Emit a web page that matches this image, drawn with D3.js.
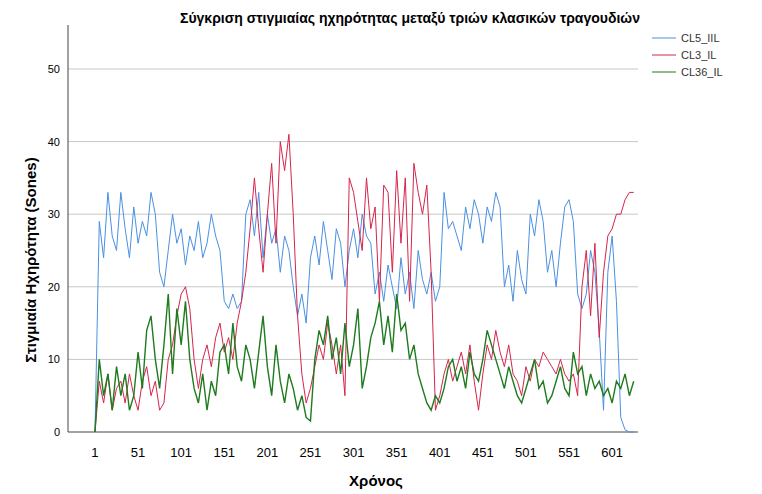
<!DOCTYPE html><html><head><meta charset="utf-8"><script src="https://cdn.jsdelivr.net/npm/d3@7"></script>
<style>body{margin:0;background:#fff}text{font-family:Arial,"Liberation Sans",sans-serif}</style></head><body><svg id="c" width="762" height="494"></svg><script>
const seriesNames=["CL5_IIL","CL3_IL","CL36_IL"];
const colors=["#4a90e2","#d6244b","#1e7b1e"];
const xTicks=[1,51,101,151,201,251,301,351,401,451,501,551,601];
const yTicks=[0,10,20,30,40,50];
const cl5=[0,29,24,33,27,25,33,28,24,31,26,29,27,33,30,22,20,25,30,26,28,23,27,25,29,24,26,30,27,25,18,17,19,17,18,30,32,27,33,24,30,26,28,22,27,25,20,16,19,15,24,27,23,29,25,21,28,26,20,25,28,24,30,27,26,19,22,18,23,20,17,24,19,22,17,25,21,19,22,18,20,33,28,29,27,25,31,28,32,30,26,31,29,33,31,20,23,18,25,21,19,30,27,32,29,22,25,20,26,31,32,29,19,17,19,25,22,14,3,22,27,18,2,0.3,0,0];
const cl3=[0,7,4,8,3,6,7,4,8,5,3,7,9,5,7,3,4,10,12,16,19,20,17,10,6,10,12,9,13,15,11,13,10,15,18,22,28,35,28,22,30,37,26,40,36,41,30,16,8,4,6,9,12,10,15,12,8,12,5,35,33,29,25,35,28,31,18,34,33,22,36,26,35,18,37,33,30,34,22,3,5,8,10,7,9,11,8,12,7,3,8,12,10,14,11,9,12,8,7,5,9,7,10,9,11,10,9,8,10,8,7,8,5,20,25,16,26,13,22,27,28,30,30,32,33,33];
const cl36=[0,10,5,8,3,9,5,8,3,5,11,6,14,16,10,6,12,19,8,17,12,18,10,6,4,8,3,7,5,11,12,8,15,9,7,12,10,6,11,16,9,5,12,7,4,8,6,3,5,2,1.5,10,14,12,16,10,13,8,15,9,12,17,6,9,13,15,18,12,16,11,19,14,15,10,12,8,6,4,3,5,4,6,9,10,7,9,6,11,8,7,10,14,12,10,8,6,9,7,5,4,6,8,10,6,7,4,5,7,9,6,5,11,8,9,5,8,6,7,5,6,4,7,6,8,5,7];
const data=[cl5,cl3,cl36];
const svg=d3.select("#c");
const x=d3.scaleLinear().domain([-30.3,631]).range([68,638]);
const y=d3.scaleLinear().domain([0,50]).range([432,69]);
svg.append("g").selectAll("line").data(yTicks.slice(1)).join("line")
 .attr("x1",68).attr("x2",638).attr("y1",d=>y(d)).attr("y2",d=>y(d)).attr("stroke","#c8c8c8");
svg.append("g").selectAll("text").data(yTicks).join("text").attr("x",60).attr("y",d=>y(d)+4)
 .attr("text-anchor","end").attr("font-size",11).text(d=>d);
svg.append("line").attr("x1",68).attr("x2",68).attr("y1",25).attr("y2",432).attr("stroke","#444");
svg.append("line").attr("x1",68).attr("x2",638).attr("y1",432).attr("y2",432).attr("stroke","#444");
svg.append("g").selectAll("text").data(xTicks).join("text").attr("x",d=>x(d)).attr("y",457)
 .attr("text-anchor","middle").attr("font-size",13).text(d=>d);
const line=d3.line().x((d,i)=>x(1+i*5)).y(d=>y(d));
data.forEach((s,k)=>svg.append("path").attr("d",line(s)).attr("fill","none").attr("stroke",colors[k]).attr("stroke-width",k==2?1.4:1));
svg.append("text").attr("x",410).attr("y",23).attr("text-anchor","middle").attr("font-size",14).attr("font-weight","bold").text("Σύγκριση στιγμιαίας ηχηρότητας μεταξύ τριών κλασικών τραγουδιών");
svg.append("text").attr("x",376).attr("y",486).attr("text-anchor","middle").attr("font-size",15).attr("font-weight","bold").text("Χρόνος");
svg.append("text").attr("transform","translate(36,260) rotate(-90)").attr("text-anchor","middle").attr("font-size",15).attr("font-weight","bold").text("Στιγμιαία Ηχηρότητα (Sones)");
const lg=svg.append("g");
seriesNames.forEach((n,i)=>{const yy=38+i*17;
 lg.append("line").attr("x1",652).attr("x2",676).attr("y1",yy).attr("y2",yy).attr("stroke",colors[i]);
 lg.append("text").attr("x",681).attr("y",yy+4).attr("font-size",11).attr("fill","#333").text(n);});
</script></body></html>
